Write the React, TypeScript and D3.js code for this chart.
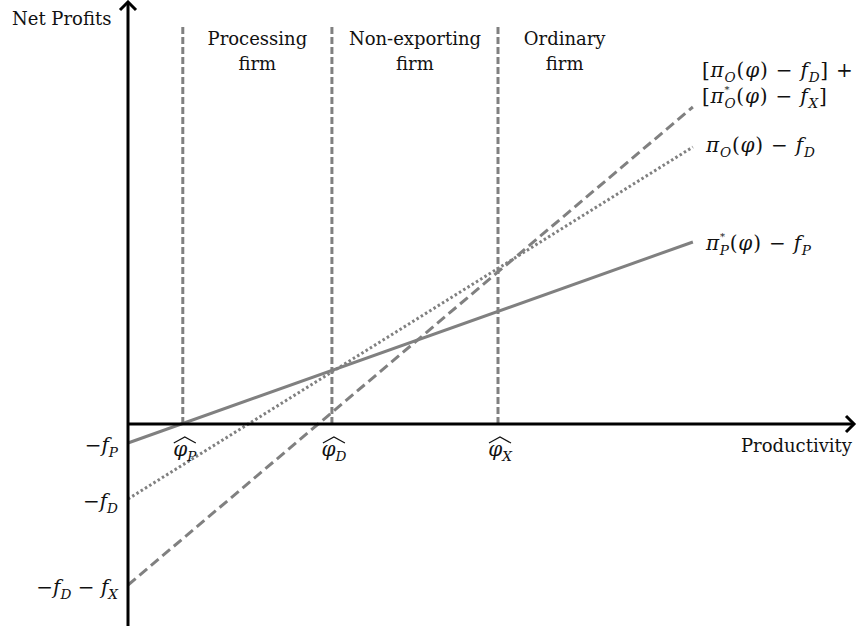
import React from 'react';
import * as d3 from 'd3';

const W = 857;
const H = 630;

// Abstract model units (productivity on x, net profits on y)
const xDomain = [0, 12.87];
const yDomain = [-10, 21];

const lineXs = [0, 10];
const solidYs = [-0.95, 9.1]; // π_P*(φ) − f_P
const dottedYs = [-3.75, 13.85]; // π_O(φ) − f_D
const dashedYs = [-8.05, 15.85]; // [π_O(φ) − f_D] + [π_O*(φ) − f_X]

const cutoffs = [0.97, 3.61, 6.55]; // φ̂_P, φ̂_D, φ̂_X
const cutoffSubs = ['P', 'D', 'X'];
const cutoffTop = 19.85;
const regionBounds = [0.97, 3.61, 6.55, 8.91];
const regionLabels = [
  ['Processing', 'firm'],
  ['Non-exporting', 'firm'],
  ['Ordinary', 'firm'],
];

type Seg = { t: string; it?: boolean; sub?: string; sup?: string };

const MINUS = ' − ';

const interceptLabels: Seg[][] = [
  [{ t: '−' }, { t: 'f', it: true, sub: 'P' }],
  [{ t: '−' }, { t: 'f', it: true, sub: 'D' }],
  [{ t: '−' }, { t: 'f', it: true, sub: 'D' }, { t: MINUS }, { t: 'f', it: true, sub: 'X' }],
];
const intercepts = [solidYs[0], dottedYs[0], dashedYs[0]];

const sumLabel1: Seg[] = [
  { t: '[' }, { t: 'π', it: true, sub: 'O' }, { t: '(' }, { t: 'φ', it: true }, { t: ')' + MINUS },
  { t: 'f', it: true, sub: 'D' }, { t: '] +' },
];
const sumLabel2: Seg[] = [
  { t: '[' }, { t: 'π', it: true, sup: '*', sub: 'O' }, { t: '(' }, { t: 'φ', it: true }, { t: ')' + MINUS },
  { t: 'f', it: true, sub: 'X' }, { t: ']' },
];
const ordLabel: Seg[] = [
  { t: 'π', it: true, sub: 'O' }, { t: '(' }, { t: 'φ', it: true }, { t: ')' + MINUS }, { t: 'f', it: true, sub: 'D' },
];
const procLabel: Seg[] = [
  { t: 'π', it: true, sup: '*', sub: 'P' }, { t: '(' }, { t: 'φ', it: true }, { t: ')' + MINUS }, { t: 'f', it: true, sub: 'P' },
];

const FONT = "'DejaVu Serif', serif";
const GRAY = '#808080';

function MathText({ x, y, segs, anchor = 'start', size = 20, spacing = 0 }: { x: number; y: number; segs: Seg[]; anchor?: string; size?: number; spacing?: number }) {
  const out: any[] = [];
  let shift = 0;
  const ss = size * 0.68;
  segs.forEach((sg, k) => {
    out.push(
      <tspan key={k + 'm'} dy={-shift} fontStyle={sg.it ? 'italic' : 'normal'}>
        {sg.t}
      </tspan>
    );
    shift = 0;
    if (sg.sup) {
      out.push(
        <tspan key={k + 'p'} dy={-10} fontSize={size * 0.5} fontStyle="normal">
          {sg.sup}
        </tspan>
      );
      shift = -10;
    }
    if (sg.sub) {
      out.push(
        <tspan key={k + 'b'} dx={sg.sup ? -size * 0.3 : 0} dy={5 - shift} fontSize={ss} fontStyle="italic">
          {sg.sub}
        </tspan>
      );
      shift = 5;
    }
  });
  return (
    <text x={x} y={y} textAnchor={anchor as any} fontSize={size} fontFamily={FONT} fill="#111" letterSpacing={spacing} xmlSpace="preserve">
      {out}
    </text>
  );
}

export default function App() {
  const x = d3.scaleLinear().domain(xDomain).range([128, 855]);
  const y = d3.scaleLinear().domain(yDomain).range([624, 4]);
  const line = d3
    .line<[number, number]>()
    .x((d) => x(d[0]))
    .y((d) => y(d[1]));
  const pts = (ys: number[]) => lineXs.map((v, i) => [v, ys[i]] as [number, number]);

  const x0 = x(0);
  const y0 = y(0);
  const yTop = y(21.15);
  const xEnd = x(xDomain[1]);

  return (
    <svg width={W} height={H} style={{ position: 'absolute', left: 0, top: 0, background: '#fff' }}>
      <rect width={W} height={H} fill="#fff" />
      {/* cutoff verticals */}
      {cutoffs.map((c, i) => (
        <line key={i} x1={x(c)} x2={x(c)} y1={y(cutoffTop)} y2={y0} stroke={GRAY} strokeWidth={3} strokeDasharray="7 3" />
      ))}
      {/* profit lines */}
      <path d={line(pts(solidYs)) || ''} fill="none" stroke={GRAY} strokeWidth={3} />
      <path d={line(pts(dottedYs)) || ''} fill="none" stroke={GRAY} strokeWidth={3} strokeDasharray="2.5 2.5" />
      <path d={line(pts(dashedYs)) || ''} fill="none" stroke={GRAY} strokeWidth={3} strokeDasharray="10 5" />

      {/* axes */}
      <line x1={x0} x2={x0} y1={y(-10.1)} y2={yTop + 1} stroke="#000" strokeWidth={3} />
      <path d={`M${x0 - 8},${yTop + 9} L${x0},${yTop + 1} L${x0 + 8},${yTop + 9}`} fill="none" stroke="#000" strokeWidth={3} />
      <line x1={x0} x2={xEnd - 1} y1={y0} y2={y0} stroke="#000" strokeWidth={3} />
      <path d={`M${xEnd - 9},${y0 - 8} L${xEnd - 1},${y0} L${xEnd - 9},${y0 + 8}`} fill="none" stroke="#000" strokeWidth={3} />

      {/* axis titles */}
      <text x={12} y={25} fontSize={18} fontFamily={FONT} fill="#111">Net Profits</text>
      <text x={852} y={452} textAnchor="end" fontSize={18} fontFamily={FONT} fill="#111">Productivity</text>

      {/* region labels */}
      {regionLabels.map((lab, i) => {
        const cx = x((regionBounds[i] + regionBounds[i + 1]) / 2);
        return (
          <g key={i}>
            <text x={cx} y={45} textAnchor="middle" fontSize={18} fontFamily={FONT} fill="#111">{lab[0]}</text>
            <text x={cx} y={70} textAnchor="middle" fontSize={18} fontFamily={FONT} fill="#111">{lab[1]}</text>
          </g>
        );
      })}

      {/* cutoff labels with hats */}
      {cutoffs.map((c, i) => {
        const cx = x(c) + 2;
        return (
          <g key={i}>
            <path d={`M${cx - 11},${443} L${cx},${437} L${cx + 11},${443}`} fill="none" stroke="#111" strokeWidth={1.2} />
            <MathText x={cx} y={456} anchor="middle" segs={[{ t: 'φ', it: true, sub: cutoffSubs[i] }]} />
          </g>
        );
      })}

      {/* intercept labels */}
      {interceptLabels.map((segs, i) => (
        <MathText key={i} x={118} y={y(intercepts[i]) + 9} anchor="end" segs={segs} />
      ))}

      {/* line labels */}
      <MathText x={702} y={y(dashedYs[1]) - 30} segs={sumLabel1} spacing={0.8} />
      <MathText x={702} y={y(dashedYs[1]) - 4} segs={sumLabel2} spacing={0.8} />
      <MathText x={706} y={y(dottedYs[1]) + 5} segs={ordLabel} spacing={0.8} />
      <MathText x={706} y={y(solidYs[1]) + 8} segs={procLabel} spacing={0.8} />
    </svg>
  );
}
